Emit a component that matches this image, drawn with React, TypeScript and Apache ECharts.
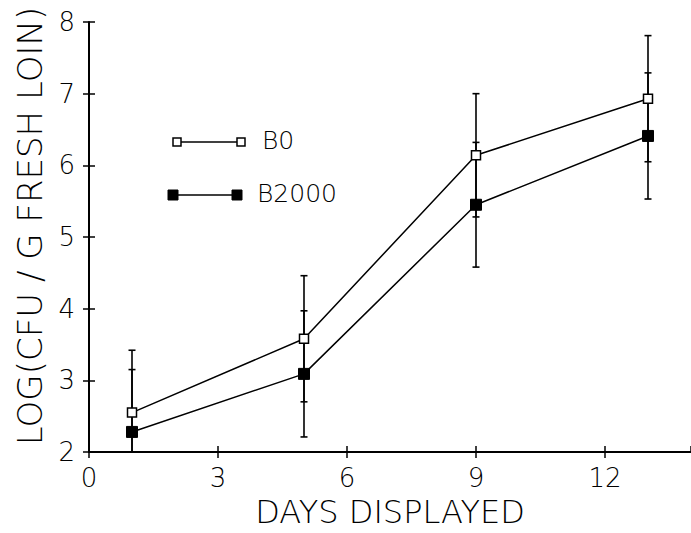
import React, { useEffect, useRef } from "react";
import * as echarts from "echarts";

const days = [1, 5, 9, 13];
const b0Mean = [2.55, 3.58, 6.14, 6.93];
const b0Err = [0.87, 0.88, 0.86, 0.88];
const b2000Mean = [2.28, 3.09, 5.45, 6.41];
const b2000Err = [0.87, 0.88, 0.87, 0.88];
const xTickValues = [0, 3, 6, 9, 12];
const yTickValues = [2, 3, 4, 5, 6, 7, 8];
const seriesNames = ["B0", "B2000"];

const FONT = "DejaVu Sans";
const WEIGHT = 200;

export default function App() {
  const ref = useRef<HTMLDivElement>(null);
  useEffect(() => {
    if (!ref.current) return;
    const chart = echarts.init(ref.current, null, { renderer: "svg" });
    const errData: number[][] = [];
    days.forEach((d, i) => {
      errData.push([d, b0Mean[i] - b0Err[i], b0Mean[i] + b0Err[i]]);
      errData.push([d, b2000Mean[i] - b2000Err[i], b2000Mean[i] + b2000Err[i]]);
    });
    const yMin = yTickValues[0];
    const baseX = {
      type: "value" as const,
      min: 0,
      max: 14,
      interval: 3,
      position: "bottom" as const,
      splitLine: { show: false },
    };
    const baseY = {
      type: "value" as const,
      min: yTickValues[0],
      max: yTickValues[yTickValues.length - 1],
      interval: 1,
      position: "left" as const,
      splitLine: { show: false },
    };
    chart.setOption({
      animation: false,
      backgroundColor: "#fff",
      grid: { left: 89, right: 0, top: 22, bottom: 81 },
      xAxis: [
        {
          ...baseX,
          name: "DAYS DISPLAYED",
          nameLocation: "middle",
          nameGap: 42,
          nameTextStyle: { fontFamily: FONT, fontWeight: WEIGHT, fontSize: 32, color: "#000" },
          axisLine: { show: true, lineStyle: { color: "#000", width: 2 } },
          axisTick: { show: true, inside: false, length: 6, lineStyle: { color: "#000", width: 1.5 } },
          axisLabel: {
            showMaxLabel: false,
            margin: 13,
            fontFamily: FONT,
            fontWeight: WEIGHT,
            fontSize: 26,
            color: "#000",
            formatter: (v: number) => (xTickValues.includes(v) ? String(v) : ""),
          },
        },
        {
          ...baseX,
          axisLine: { show: false },
          axisTick: { show: true, inside: true, length: 6, lineStyle: { color: "#000", width: 1.5 } },
          axisLabel: { show: false },
        },
      ],
      yAxis: [
        {
          ...baseY,
          name: "LOG(CFU / G FRESH LOIN)",
          nameLocation: "middle",
          nameGap: 42,
          nameRotate: 90,
          nameTextStyle: {
            fontFamily: FONT,
            fontWeight: WEIGHT,
            fontSize: 34,
            color: "#000",
            padding: [0, 0, 0, 22],
          },
          axisLine: { show: true, lineStyle: { color: "#000", width: 2 } },
          axisTick: { show: true, inside: false, length: 6, lineStyle: { color: "#000", width: 1.5 } },
          axisLabel: { margin: 14, fontFamily: FONT, fontWeight: WEIGHT, fontSize: 26, color: "#000" },
        },
        {
          ...baseY,
          axisLine: { show: false },
          axisTick: { show: true, inside: true, length: 6, lineStyle: { color: "#000", width: 1.5 } },
          axisLabel: { show: false },
        },
      ],
      series: [
        {
          type: "custom",
          name: "err",
          xAxisIndex: 0,
          yAxisIndex: 0,
          z: 1,
          data: errData,
          renderItem: (params: any, api: any) => {
            const x = api.value(0);
            const lo = api.value(1);
            const hi = api.value(2);
            const loC = Math.max(lo, yMin);
            const top = api.coord([x, hi]);
            const bot = api.coord([x, loC]);
            const cap = 3.5;
            const st = { stroke: "#000", lineWidth: 1.6 };
            const children: any[] = [
              { type: "line", shape: { x1: top[0], y1: top[1], x2: bot[0], y2: bot[1] }, style: st },
              { type: "line", shape: { x1: top[0] - cap, y1: top[1], x2: top[0] + cap, y2: top[1] }, style: st },
            ];
            if (lo >= yMin) {
              children.push({
                type: "line",
                shape: { x1: bot[0] - cap, y1: bot[1], x2: bot[0] + cap, y2: bot[1] },
                style: st,
              });
            }
            return { type: "group", children };
          },
        },
        {
          type: "line",
          name: seriesNames[0],
          xAxisIndex: 0,
          yAxisIndex: 0,
          z: 3,
          data: days.map((d, i) => [d, b0Mean[i]]),
          symbol: "rect",
          symbolSize: 9,
          lineStyle: { color: "#000", width: 1.5 },
          itemStyle: { color: "#fff", borderColor: "#000", borderWidth: 1.5 },
        },
        {
          type: "line",
          name: seriesNames[1],
          xAxisIndex: 0,
          yAxisIndex: 0,
          z: 3,
          data: days.map((d, i) => [d, b2000Mean[i]]),
          symbol: "rect",
          symbolSize: 11,
          lineStyle: { color: "#000", width: 1.5 },
          itemStyle: { color: "#000", borderColor: "#000", borderWidth: 1 },
        },
      ],
      graphic: [
        { type: "line", shape: { x1: 181, y1: 142, x2: 237, y2: 142 }, style: { stroke: "#000", lineWidth: 1.3 } },
        { type: "rect", shape: { x: 173, y: 138, width: 8, height: 8 }, style: { fill: "#fff", stroke: "#000", lineWidth: 1.5 } },
        { type: "rect", shape: { x: 237, y: 138, width: 8, height: 8 }, style: { fill: "#fff", stroke: "#000", lineWidth: 1.5 } },
        {
          type: "text",
          left: 262,
          top: 128,
          style: { text: seriesNames[0], font: `${WEIGHT} 25px "${FONT}"`, fill: "#000" },
        },
        { type: "line", shape: { x1: 178, y1: 195, x2: 232, y2: 195 }, style: { stroke: "#000", lineWidth: 1.3 } },
        { type: "rect", shape: { x: 168, y: 190, width: 10, height: 10 }, style: { fill: "#000", stroke: "#000", lineWidth: 1 } },
        { type: "rect", shape: { x: 232, y: 190, width: 10, height: 10 }, style: { fill: "#000", stroke: "#000", lineWidth: 1 } },
        {
          type: "text",
          left: 257,
          top: 181,
          style: { text: seriesNames[1], font: `${WEIGHT} 25px "${FONT}"`, fill: "#000" },
        },
      ],
    });
    return () => chart.dispose();
  }, []);
  return (
    <div
      ref={ref}
      style={{ position: "fixed", left: 0, top: 0, width: 691, height: 533, background: "#fff" }}
    />
  );
}
